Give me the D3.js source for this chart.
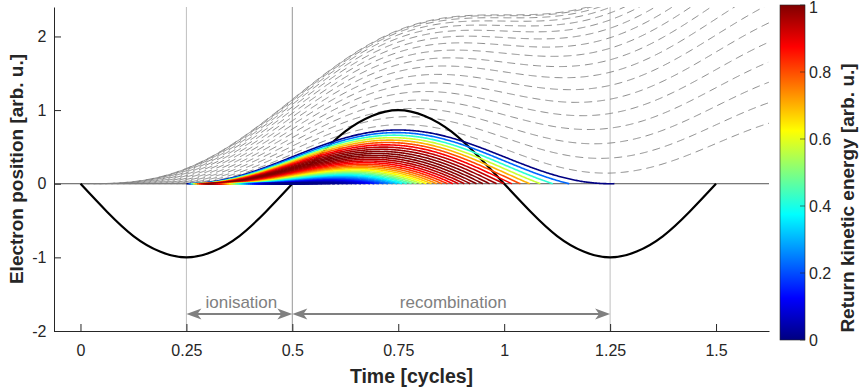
<!DOCTYPE html>
<html>
<meta charset="utf-8">
<style>
  body { margin: 0; background: #fff; }
  text { font-family: "Liberation Sans", Arial, Helvetica, sans-serif; }
</style>
<body>
<div id="chart"></div>
<script src="https://d3js.org/d3.v7.min.js"></script>
<script>
"use strict";

// laser field (black curve), read every 1/16 cycle
var fieldTimes = [0, 0.0625, 0.125, 0.1875, 0.25, 0.3125, 0.375, 0.4375, 0.5,
                  0.5625, 0.625, 0.6875, 0.75, 0.8125, 0.875, 0.9375, 1,
                  1.0625, 1.125, 1.1875, 1.25, 1.3125, 1.375, 1.4375, 1.5];
var fieldValues = [0, -0.38, -0.71, -0.92, -1, -0.92, -0.71, -0.38, 0,
                   0.38, 0.71, 0.92, 1, 0.92, 0.71, 0.38, 0,
                   -0.38, -0.71, -0.92, -1, -0.92, -0.71, -0.38, 0];

// birth times of the electrons that drift away (grey dashed)
var driftBirthTimes = [0.002, 0.016, 0.030, 0.044, 0.058, 0.072, 0.086, 0.100, 0.114,
                       0.128, 0.142, 0.156, 0.170, 0.184, 0.198, 0.212, 0.226, 0.240];
// birth times of the electrons that come back (coloured by return energy)
var returnBirthTimes = [0.250, 0.255, 0.260, 0.265, 0.270, 0.275, 0.280, 0.285, 0.290, 0.295,
                        0.300, 0.305, 0.310, 0.315, 0.320, 0.325, 0.330, 0.335, 0.340, 0.345,
                        0.350, 0.355, 0.360, 0.365, 0.370, 0.375, 0.380, 0.385, 0.390, 0.395,
                        0.400, 0.405, 0.410, 0.415, 0.420, 0.425, 0.430, 0.435, 0.440, 0.445,
                        0.450, 0.455, 0.460, 0.465, 0.470, 0.475, 0.480, 0.485, 0.490, 0.495];
// excursion scale: the electron born at 0.25 peaks at ~0.73
var excursion = 0.365;

var xTicks = [0, 0.25, 0.5, 0.75, 1, 1.25, 1.5];
var yTicks = [-2, -1, 0, 1, 2];
var cbarTicks = [0, 0.2, 0.4, 0.6, 0.8, 1];
var markerTimes = [0.25, 0.5, 0.5, 1.25];
var spanLabels = ["ionisation", "recombination"];
var spanFrom = [0.25, 0.5];
var spanTo = [0.5, 1.25];

// jet colormap
var jetStops = [0, 0.125, 0.375, 0.625, 0.875, 1];
var jetColors = ["#000080", "#0000ff", "#00ffff", "#ffff00", "#ff0000", "#800000"];

var W = 862, H = 389;
var x = d3.scaleLinear().domain([-0.0625, 1.625]).range([54, 769]);
var y = d3.scaleLinear().domain([-2, 2.4]).range([331, 7]);
var jet = d3.scaleLinear().domain(jetStops).range(jetColors).clamp(true);
var cbarY = d3.scaleLinear().domain([0, 1]).range([340, 5]);

var svg = d3.select("#chart").append("svg")
    .attr("width", W).attr("height", H);

var defs = svg.append("defs");
defs.append("clipPath").attr("id", "plotclip")
  .append("rect")
    .attr("x", x.range()[0]).attr("y", y.range()[1])
    .attr("width", x.range()[1] - x.range()[0])
    .attr("height", y.range()[0] - y.range()[1]);

// classical electron trajectory, born at rest at t0 in the field above
var w = 2 * Math.PI;
function position(t0, t) {
  return excursion * (w * (t - t0) * Math.cos(w * t0) - Math.sin(w * t) + Math.sin(w * t0));
}
var dt = 0.0025;

var driftPaths = driftBirthTimes.map(function (t0) {
  var pts = [];
  for (var t = t0; t <= 1.625 + 1e-9; t += dt) pts.push([t, position(t0, t)]);
  return pts;
});

var returnPaths = returnBirthTimes.map(function (t0) {
  var pts = [[t0, 0]];
  var t = t0 + dt, prev = [t0, 0], tr = null;
  while (t <= 1.26) {
    var p = position(t0, t);
    if (p <= 0 && t > t0 + 0.01) {
      var f = prev[1] / (prev[1] - p);
      tr = prev[0] + f * (t - prev[0]);
      pts.push([tr, 0]);
      break;
    }
    pts.push([t, p]);
    prev = [t, p];
    t += dt;
  }
  if (tr === null) { tr = prev[0]; }
  var v = Math.cos(w * t0) - Math.cos(w * tr);
  return { pts: pts, energy: v * v };
});
var maxEnergy = d3.max(returnPaths, function (d) { return d.energy; });

var line = d3.line()
    .x(function (d) { return x(d[0]); })
    .y(function (d) { return y(d[1]); });

var plot = svg.append("g").attr("clip-path", "url(#plotclip)");

// zero line
plot.append("line")
    .attr("x1", x(-0.0625)).attr("x2", x(1.625))
    .attr("y1", y(0)).attr("y2", y(0))
    .attr("stroke", "#555").attr("stroke-width", 1);

// vertical markers
plot.selectAll(".marker").data(markerTimes).enter().append("line")
    .attr("x1", function (d) { return x(d); }).attr("x2", function (d) { return x(d); })
    .attr("y1", y(2.4)).attr("y2", y(-2))
    .attr("stroke", "#808080").attr("stroke-opacity", 0.5).attr("stroke-width", 1);

// drifting electrons
plot.selectAll(".drift").data(driftPaths).enter().append("path")
    .attr("d", line)
    .attr("fill", "none").attr("stroke", "#808080")
    .attr("stroke-width", 0.9).attr("stroke-dasharray", "8,5");

// laser field
plot.append("path")
    .datum(fieldTimes.map(function (t, i) { return [t, fieldValues[i]]; }))
    .attr("d", line.curve(d3.curveNatural))
    .attr("fill", "none").attr("stroke", "#000").attr("stroke-width", 2.2);
line.curve(d3.curveLinear);

// returning electrons
plot.selectAll(".ret").data(returnPaths).enter().append("path")
    .attr("d", function (d) { return line(d.pts); })
    .attr("fill", "none")
    .attr("stroke", function (d) { return jet(d.energy / maxEnergy); })
    .attr("stroke-width", 1.6);

// axes
var xAxis = svg.append("g")
    .attr("transform", "translate(0," + y(-2) + ")")
    .call(d3.axisBottom(x).tickValues(xTicks).tickSizeInner(-7).tickSizeOuter(0)
      .tickPadding(14).tickFormat(function (d) { return String(d); }));
var yAxis = svg.append("g")
    .attr("transform", "translate(" + x(-0.0625) + ",0)")
    .call(d3.axisLeft(y).tickValues(yTicks).tickSizeInner(-7).tickSizeOuter(0)
      .tickPadding(7.5).tickFormat(function (d) { return String(d); }));
[xAxis, yAxis].forEach(function (g) {
  g.attr("font-family", null).attr("font-size", 16);
  g.selectAll("path, line").attr("stroke", "#262626");
  g.selectAll("text").attr("fill", "#262626");
});

svg.append("text")
    .attr("x", (x.range()[0] + x.range()[1]) / 2).attr("y", 383)
    .attr("text-anchor", "middle").attr("font-weight", "bold").attr("font-size", 19.5)
    .attr("fill", "#262626").text("Time [cycles]");
svg.append("text")
    .attr("transform", "translate(23," + (y.range()[0] + y.range()[1]) / 2 + ") rotate(-90)")
    .attr("text-anchor", "middle").attr("font-weight", "bold").attr("font-size", 19)
    .attr("fill", "#262626").text("Electron position [arb. u.]");

// span annotations
var arrowY = y(-1.77);
function head(px, dir) {
  // tip at px, pointing in dir (+1 right, -1 left)
  var L = 15, hw = 5.5, n = 11;
  return "M" + px + "," + arrowY +
    "L" + (px - dir * L) + "," + (arrowY - hw) +
    "L" + (px - dir * n) + "," + arrowY +
    "L" + (px - dir * L) + "," + (arrowY + hw) + "Z";
}
spanLabels.forEach(function (lab, i) {
  var a = x(spanFrom[i]), b = x(spanTo[i]);
  svg.append("line")
      .attr("x1", a + 8).attr("x2", b - 8).attr("y1", arrowY).attr("y2", arrowY)
      .attr("stroke", "#808080").attr("stroke-width", 2);
  svg.append("path").attr("d", head(a, -1)).attr("fill", "#808080");
  svg.append("path").attr("d", head(b, 1)).attr("fill", "#808080");
  svg.append("text")
      .attr("x", (a + b) / 2 + 2).attr("y", arrowY - 6)
      .attr("text-anchor", "middle").attr("font-size", 17)
      .attr("fill", "#808080").text(lab);
});

// colorbar
var grad = defs.append("linearGradient").attr("id", "jetgrad")
    .attr("x1", 0).attr("x2", 0).attr("y1", 1).attr("y2", 0);
grad.selectAll("stop").data(jetStops).enter().append("stop")
    .attr("offset", function (d) { return d; })
    .attr("stop-color", function (d, i) { return jetColors[i]; });
var cb = svg.append("g");
cb.append("rect")
    .attr("x", 780).attr("y", cbarY(1)).attr("width", 25).attr("height", cbarY(0) - cbarY(1))
    .attr("fill", "url(#jetgrad)").attr("stroke", "#262626").attr("stroke-width", 0.6);
cb.selectAll(".ct").data(cbarTicks).enter().append("line")
    .attr("x1", 800).attr("x2", 805)
    .attr("y1", function (d) { return cbarY(d); }).attr("y2", function (d) { return cbarY(d); })
    .attr("stroke", "#262626").attr("stroke-width", 0.6);
cb.selectAll(".cl").data(cbarTicks).enter().append("text")
    .attr("x", 809).attr("y", function (d) { return Math.max(cbarY(d), 7); })
    .attr("dy", "0.35em").attr("font-size", 16).attr("fill", "#262626")
    .text(function (d) { return String(d); });
svg.append("text")
    .attr("transform", "translate(854,198) rotate(-90)")
    .attr("text-anchor", "middle").attr("font-weight", "bold").attr("font-size", 19)
    .attr("fill", "#262626").text("Return kinetic energy [arb. u.]");
</script>
</body>
</html>
